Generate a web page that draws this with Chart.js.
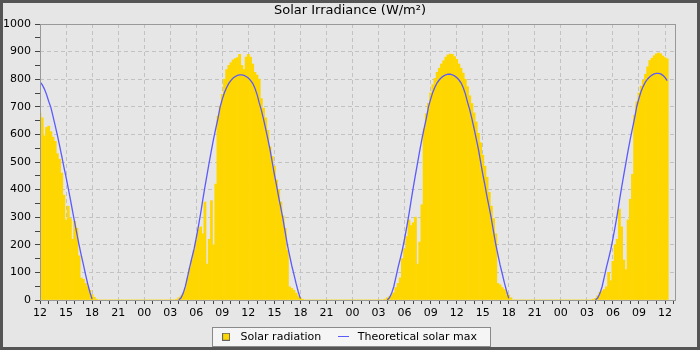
<!DOCTYPE html>
<html>
<head>
<meta charset="utf-8">
<script src="https://cdn.jsdelivr.net/npm/chart.js@4.4.1/dist/chart.umd.min.js"></script>
<style>
  html, body { margin: 0; padding: 0; background: #e6e6e6; }
  canvas { display: block; }
</style>
</head>
<body>
<canvas id="chart" width="700" height="350"></canvas>
<script>
// 15-minute samples, first one at 12:00 on day 1
const stepHours = 0.25;

// x tick labels, one every 3 hours
const tickLabels = ['12', '15', '18', '21', '00', '03', '06', '09',
                    '12', '15', '18', '21', '00', '03', '06', '09',
                    '12', '15', '18', '21', '00', '03', '06', '09', '12'];

// measured radiation (W/m²), 4 values per hour
const radiationDay1 = [ // 12:00 - 23:45
    675, 660, 595, 625,   630, 610, 590, 575,   530, 510, 460, 380,
    290, 340, 295, 220,   285, 260, 160, 80,    75, 60, 48, 35,
    20, 10, 3, 0,         0, 0, 0, 0,           0, 0, 0, 0,
    0, 0, 0, 0,           0, 0, 0, 0,           0, 0, 0, 0
];
const radiationDay2 = [ // 00:00 - 23:45
    0, 0, 0, 0,           0, 0, 0, 0,           0, 0, 0, 0,
    0, 0, 0, 3,           8, 15, 25, 45,        80, 115, 145, 180,
    215, 255, 265, 240,   355, 130, 220, 360,   200, 420, 665, 700,
    745, 800, 835, 850,   860, 870, 875, 878,   890, 850, 835, 880,
    890, 880, 855, 825,   815, 800, 730, 695,   660, 615, 555, 520,
    485, 435, 400, 355,   305, 260, 180, 48,    42, 35, 25, 15,
    8, 3, 0, 0,           0, 0, 0, 0,           0, 0, 0, 0,
    0, 0, 0, 0,           0, 0, 0, 0,           0, 0, 0, 0
];
const radiationDay3 = [ // 00:00 - 23:45
    0, 0, 0, 0,           0, 0, 0, 0,           0, 0, 0, 0,
    0, 0, 0, 3,           8, 12, 18, 26,        45, 60, 80, 150,
    185, 230, 290, 270,   280, 300, 130, 210,   345, 620, 675, 713,
    750, 780, 803, 825,   840, 855, 867, 880,   888, 891, 890, 882,
    872, 855, 840, 822,   800, 773, 740, 712,   678, 645, 604, 570,
    525, 485, 445, 390,   340, 295, 240, 60,    55, 45, 38, 30,
    18, 8, 0, 0,          0, 0, 0, 0,           0, 0, 0, 0,
    0, 0, 0, 0,           0, 0, 0, 0,           0, 0, 0, 0
];
const radiationDay4 = [ // 00:00 - 12:15
    0, 0, 0, 0,           0, 0, 0, 0,           0, 0, 0, 0,
    0, 0, 0, 3,           6, 15, 28, 33,        38, 48, 100, 70,
    140, 200, 220, 330,   265, 145, 110, 290,   365, 455, 670, 718,
    750, 775, 797, 818,   845, 868, 876, 885,   892, 895, 892, 884,
    878, 874
];

// theoretical clear-sky maximum (W/m²), null at night
const solarMaxDay1 = [ // 12:00 - 23:45
    790, 780, 765, 745,   720, 698, 665, 632,   597, 560, 522, 482,
    445, 405, 365, 322,   280, 240, 200, 163,   128, 92, 58, 28,
    3, null, null, null,  null, null, null, null, null, null, null, null,
    null, null, null, null, null, null, null, null, null, null, null, null
];
const solarMaxDay2 = [ // 00:00 - 23:45
    null, null, null, null, null, null, null, null, null, null, null, null,
    null, null, null, null, 0, 8, 25, 50,       85, 120, 153, 185,
    225, 268, 313, 363,   410, 455, 500, 543,   585, 622, 658, 700,
    728, 752, 770, 785,   796, 804, 810, 814,   816, 816, 814, 810,
    804, 796, 785, 768,   745, 715, 688, 655,   620, 583, 545, 500,
    455, 415, 372, 333,   292, 245, 200, 162,   125, 93, 60, 30,
    5, null, null, null,  null, null, null, null, null, null, null, null,
    null, null, null, null, null, null, null, null, null, null, null, null
];
const solarMaxDay3 = [ // 00:00 - 23:45
    null, null, null, null, null, null, null, null, null, null, null, null,
    null, null, null, null, 0, 8, 24, 48,       83, 118, 150, 183,
    222, 265, 310, 360,   408, 453, 498, 542,   584, 622, 658, 700,
    728, 753, 772, 787,   798, 806, 812, 816,   818, 818, 816, 812,
    806, 798, 787, 770,   747, 717, 690, 657,   622, 585, 547, 502,
    457, 417, 374, 335,   294, 247, 202, 164,   127, 95, 62, 32,
    6, null, null, null,  null, null, null, null, null, null, null, null,
    null, null, null, null, null, null, null, null, null, null, null, null
];
const solarMaxDay4 = [ // 00:00 - 12:15
    null, null, null, null, null, null, null, null, null, null, null, null,
    null, null, null, null, 0, 8, 24, 48,       83, 118, 150, 183,
    222, 265, 310, 360,   408, 453, 498, 542,   584, 622, 660, 702,
    731, 756, 775, 790,   801, 809, 815, 819,   821, 821, 819, 814,
    806, 795
];

const radiation = [].concat(radiationDay1, radiationDay2, radiationDay3, radiationDay4);
const solarMax = [].concat(solarMaxDay1, solarMaxDay2, solarMaxDay3, solarMaxDay4);

const barColor = '#ffd700';
const lineColor = '#5a5aff';
const gridColor = '#c2c2c2';
const hidden = 'rgba(0,0,0,0)';

Chart.defaults.font.family = "'DejaVu Sans', sans-serif";
Chart.defaults.font.size = 11;
Chart.defaults.color = '#000';

// small icons for the legend
function makeIcon(w, h, paint) {
    const cv = document.createElement('canvas');
    cv.width = w;
    cv.height = h;
    paint(cv.getContext('2d'));
    return cv;
}
const squareIcon = makeIcon(8, 8, g => {
    g.fillStyle = barColor;
    g.fillRect(0, 0, 8, 8);
    g.strokeStyle = '#666';
    g.strokeRect(0.5, 0.5, 7, 7);
});
const lineIcon = makeIcon(11, 1, g => {
    g.fillStyle = lineColor;
    g.fillRect(0, 0, 11, 1);
});

// background, legend box, plot frame and outer border
const framePlugin = {
    id: 'frame',
    afterLayout(chart) {
        // centre title and legend like the original rather than on the padded area
        const shift = (box, dx) => { if (box) { box.left += dx; box.right += dx; } };
        shift(chart.legend, 7.5);
        shift(chart.titleBlock, 10.5);
    },
    beforeDraw(chart) {
        const c = chart.ctx;
        c.save();
        c.fillStyle = '#e6e6e6';
        c.fillRect(0, 0, chart.width, chart.height);
        const boxes = chart.legend && chart.legend.legendHitBoxes;
        if (boxes && boxes.length) {
            const first = boxes[0];
            const last = boxes[boxes.length - 1];
            const x0 = Math.round(first.left - 5) + 0.5;
            const x1 = Math.round(last.left + last.width + 13) + 0.5;
            const y0 = Math.round(first.top - 4) + 0.5;
            c.fillStyle = '#f5f5f5';
            c.fillRect(x0, y0, x1 - x0, 19);
            c.strokeStyle = '#8a8a8a';
            c.lineWidth = 1;
            c.strokeRect(x0, y0, x1 - x0, 19);
        }
        c.restore();
    },
    afterDatasetsDraw(chart) {
        const {left, top, right, bottom} = chart.chartArea;
        const c = chart.ctx;
        c.save();
        c.strokeStyle = '#999';
        c.lineWidth = 1;
        c.strokeRect(Math.round(left) + 0.5, Math.round(top) + 0.5,
                     Math.round(right - left), Math.round(bottom - top));
        c.restore();
    },
    afterDraw(chart) {
        const c = chart.ctx;
        c.save();
        c.strokeStyle = '#555';
        c.lineWidth = 3;
        c.strokeRect(1.5, 1.5, chart.width - 3, chart.height - 3);
        c.restore();
    }
};

new Chart(document.getElementById('chart'), {
    type: 'bar',
    data: {
        datasets: [{
            type: 'bar',
            label: 'Solar radiation',
            data: radiation.map((v, i) => ({x: i * stepHours, y: v})),
            backgroundColor: barColor,
            borderWidth: 0,
            barPercentage: 1,
            categoryPercentage: 1,
            order: 1
        }, {
            type: 'line',
            label: 'Theoretical solar max',
            data: solarMax.map((v, i) => ({x: i * stepHours, y: v})),
            borderColor: lineColor,
            borderWidth: 1.3,
            pointRadius: 0,
            tension: 0,
            order: 0
        }]
    },
    options: {
        responsive: false,
        animation: false,
        devicePixelRatio: 1,
        layout: {padding: {left: 4, right: 25, top: 3, bottom: -2.2}},
        plugins: {
            title: {
                display: true,
                text: 'Solar Irradiance (W/m²)',
                color: '#000',
                font: {size: 13, weight: 'normal'},
                padding: {top: 0, bottom: 5.4}
            },
            legend: {
                position: 'bottom',
                labels: {
                    usePointStyle: true,
                    pointStyleWidth: 18,
                    boxHeight: 11,
                    padding: 13,
                    color: '#000',
                    font: {size: 11},
                    generateLabels: () => [
                        {text: 'Solar radiation', pointStyle: squareIcon, fillStyle: barColor,
                         strokeStyle: barColor, lineWidth: 0, hidden: false, datasetIndex: 0},
                        {text: 'Theoretical solar max', pointStyle: lineIcon, fillStyle: lineColor,
                         strokeStyle: lineColor, lineWidth: 0, hidden: false, datasetIndex: 1}
                    ]
                }
            },
            tooltip: {enabled: false}
        },
        scales: {
            x: {
                type: 'linear',
                min: 0,
                max: 73.15,
                offset: false,
                grid: {
                    offset: false,
                    color: c => (c.tick && c.tick.value % 3 === 0) ? gridColor : hidden,
                    tickColor: '#444',
                    tickLength: 4
                },
                border: {display: false, dash: [4, 3]},
                ticks: {
                    stepSize: 1,
                    autoSkip: false,
                    maxRotation: 0,
                    includeBounds: false,
                    padding: 3,
                    color: '#000',
                    callback: v => v % 3 === 0 ? tickLabels[v / 3] : ''
                },
                afterFit: s => { s.height = 18.2; }
            },
            y: {
                min: 0,
                max: 1000,
                grid: {
                    color: c => (c.tick && c.tick.value % 100 === 0) ? gridColor : hidden,
                    tickColor: '#444',
                    tickLength: 5
                },
                border: {display: false, dash: [4, 3]},
                ticks: {
                    stepSize: 50,
                    autoSkip: false,
                    padding: 4,
                    color: '#000',
                    callback: v => v % 100 === 0 ? v : ''
                },
                afterFit: s => { s.width = 36; }
            }
        }
    },
    plugins: [framePlugin]
});
</script>
</body>
</html>
